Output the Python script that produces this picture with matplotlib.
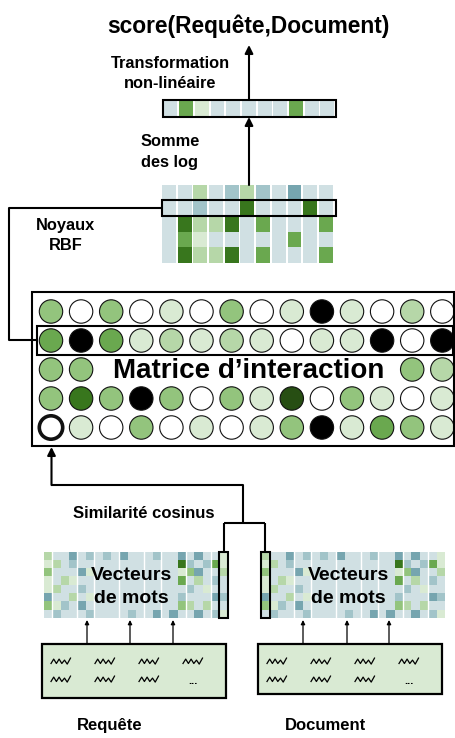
import matplotlib
matplotlib.use("Agg")
import matplotlib.pyplot as plt
from matplotlib.patches import Rectangle, Circle

plt.rcParams['font.family'] = ['Liberation Sans', 'DejaVu Sans']

# colour codes used in the diagram
COLORS = {
    '0': '#d0e0e3', '1': '#a2c4c9', '2': '#76a5af',
    'W': '#ffffff', 'P': '#d9ead3', 'L': '#b6d7a8', 'M': '#93c47d',
    'G': '#6aa84f', 'D': '#38761d', 'V': '#274e13', 'K': '#000000',
}

# interaction matrix (5 x 14 circles), '.' = hidden by the label
MATRIX = [
    "MWMWPWMWPKPWLW",
    "GKGPLPLPWPPKWK",
    "MM..........ML",
    "MDMKMWMPVWMPWP",
    "WPWMWPWPMKPGMP",
]
MATRIX_HL_ROW = 1

# RBF kernel grid (5 x 11)
RBF = [
    "00L01L10200",
    "00100D000D0",
    "0DLLD0G000G",
    "0GP00000G00",
    "0DLLD0G000G",
]
RBF_HL_ROW = 1

# summed log vector (1 x 11)
SUM_LOG = "0GP00000G00"

# word vectors (8 x 22)
WORD_VEC = [
    "L00201010200010020200P",
    "PL01000000000000D101GP",
    "M0002P0000000000PM200L",
    "P0LP000000000000G0L010",
    "PL00100000000000010P00",
    "200L0P0000000000100021",
    "MP10200000000000ML0L00",
    "010001000010020200201P",
]
WV_SEPS = [1, 4, 6, 9, 12, 14, 17, 20]

W, H = 456, 738
fig = plt.figure(figsize=(W / 100, H / 100), dpi=100)
ax = fig.add_axes([0, 0, 1, 1])
ax.set_xlim(0, W)
ax.set_ylim(H, 0)
ax.axis('off')

LW = 1.5


def line(xs, ys, lw=LW):
    ax.plot(xs, ys, color='black', lw=lw, solid_capstyle='butt')


def arrow(x0, y0, x1, y1, lw=LW, ms=12):
    ax.annotate('', xy=(x1, y1), xytext=(x0, y0),
                arrowprops=dict(arrowstyle='-|>', color='black', lw=lw,
                                mutation_scale=ms, shrinkA=0, shrinkB=0))


def box(x0, y0, x1, y1, lw=LW, fc='none'):
    ax.add_patch(Rectangle((x0, y0), x1 - x0, y1 - y0, fc=fc,
                           ec='black', lw=lw, zorder=5))


def bold(x, y, s, size=12, ha='center', **kw):
    ax.text(x, y, s, fontsize=size, fontweight='bold', ha=ha,
            va='baseline', zorder=8, **kw)


# --- title and summed vector ---
bold(248.5, 32.5, "score(Requête,Document)", size=16.4)
arrow(249, 100, 249, 45)
bold(170.5, 68, "Transformation", size=11.8)
bold(170.5, 88, "non-linéaire", size=11.8)

bx0, pitch = 163.5, 15.7
for j, c in enumerate(SUM_LOG):
    ax.add_patch(Rectangle((bx0 + j * pitch, 101), pitch - 1.8, 14.5,
                           fc=COLORS[c], ec='none'))
box(163, 100, 336, 116.5)

arrow(249, 185, 249, 117)
bold(170, 146.5, "Somme", size=11.8)
bold(170, 166.5, "des log", size=11.8)

# --- RBF kernels ---
rx0, ry0, rh = 162, 185, 15.5
for i, row in enumerate(RBF):
    for j, c in enumerate(row):
        ax.add_patch(Rectangle((rx0 + j * pitch, ry0 + i * rh), pitch - 1.8,
                               rh, fc=COLORS[c], ec='none'))
box(162, 199.5, 336, 216)
bold(66, 230, "Noyaux", size=11.8)
bold(66, 250, "RBF", size=11.8)
line([162, 9.5, 9.5, 37], [208, 208, 340, 340])

# --- interaction matrix ---
box(32, 292, 454, 446)
cx0, cdx, cy0, cdy, rad = 51, 30.1, 311.5, 29, 11.7
for i, row in enumerate(MATRIX):
    for j, c in enumerate(row):
        if c == '.':
            continue
        thick = (i == len(MATRIX) - 1 and j == 0)
        ax.add_patch(Circle((cx0 + j * cdx, cy0 + i * cdy), rad,
                            fc=COLORS[c], ec='#111111',
                            lw=2.6 if thick else 0.8, zorder=4))
hy = cy0 + MATRIX_HL_ROW * cdy
box(37, hy - 14.5, 453, hy + 14)
bold(249, 378.5, "Matrice d\u2019interaction", size=20)

# cosine similarity connector
arrow(51.5, 485, 51.5, 447)
line([51.5, 243.5, 243.5], [485, 485, 523])
line([224, 265.5], [523, 523])
line([224, 224], [523, 551])
line([265.5, 265.5], [523, 551])
bold(143.5, 518.5, "Similarité cosinus", size=12)

# --- word vectors ---
cw, chh, wy0 = 8.36, 8.33, 551.5


def word_grid(x0, hl_col):
    for i, row in enumerate(WORD_VEC):
        for j, c in enumerate(row):
            ax.add_patch(Rectangle((x0 + j * cw, wy0 + i * chh), cw, chh,
                                   fc=COLORS[c], ec='none'))
    for k in WV_SEPS:
        ax.plot([x0 + k * cw] * 2, [wy0, wy0 + 8 * chh], color='white', lw=1)
    xa = x0 + hl_col * cw
    box(xa - 0.3, wy0, xa + cw + 0.3, wy0 + 8 * chh)


word_grid(44, len(WORD_VEC[0]) - 1)
word_grid(261, 0)
for xc in (131.5, 348.5):
    bold(xc, 580, "Vecteurs", size=14)
    bold(xc, 603, "de mots", size=14)

# --- input boxes ---
SQ_X = [0, 2.7, 5.4, 8.1, 10.8, 13.5, 16.2, 19.5]
SQ_Y = [2.0, -2.4, 2.0, -2.4, 2.0, -1.4, 2.6, -3.4]


def squiggle(x, y):
    ax.plot([x + a for a in SQ_X], [y + b for b in SQ_Y],
            color='black', lw=0.9, zorder=6)


def input_box(x0, y1, arrows, label):
    box(x0, 644, x0 + 184, y1, lw=1.6, fc='#d9ead3')
    for r, yy in enumerate((661.5, 679.5)):
        for k in range(4):
            if r == 1 and k == 3:
                bold(x0 + 151, yy + 4, "...", size=8)
            else:
                squiggle(x0 + 9 + k * 44, yy)
    for xa in arrows:
        arrow(xa, 644, xa, 620, lw=0.9, ms=6)
    bold(x0 + 68, 730, label, size=12)


input_box(42, 698, [87, 130, 173], "Requête")
input_box(258, 694, [303, 347, 389], "Document")

fig.savefig("out.png", dpi=100)
